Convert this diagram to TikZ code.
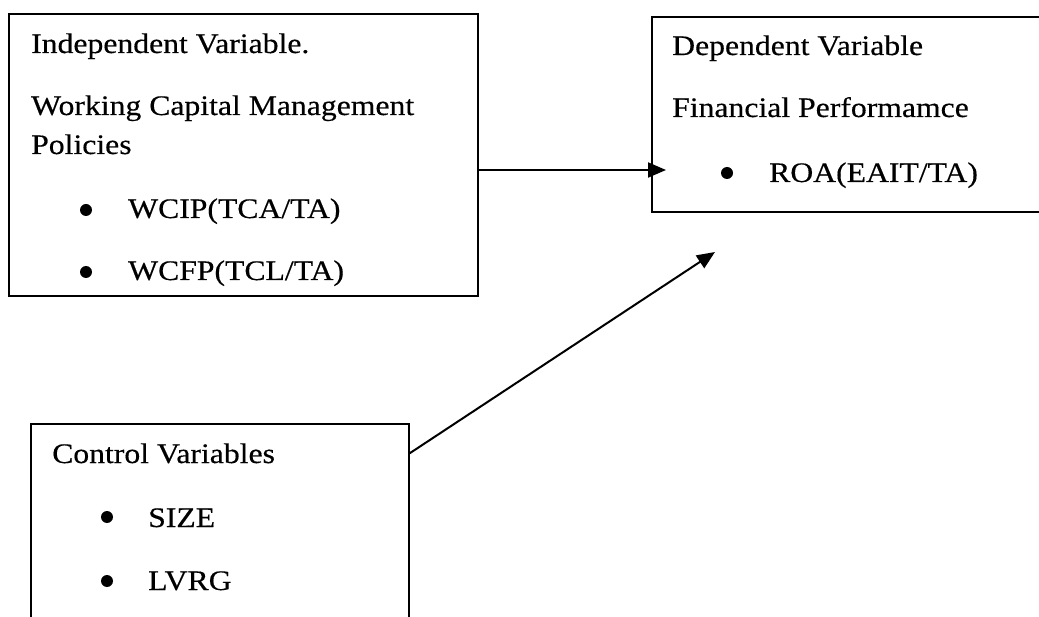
\documentclass[tikz,border=0pt]{standalone}
\usepackage{fontspec}
\setmainfont[FakeStretch=1.12, FakeBold=0.4]{Liberation Serif}
\usepackage{tikz}
\usetikzlibrary{arrows.meta}

\begin{document}
\begin{tikzpicture}[
    x=1pt, y=-1pt,
    box line/.style={draw, line width=1.5pt, inner sep=0pt},
    pile/.style={line width=2pt, -{Triangle[length=18pt, width=15pt]}},
    label text/.style={anchor=base west, inner sep=0pt,
        font=\fontsize{28.3}{34}\selectfont},
    dot/.style={circle, fill, inner sep=0pt, minimum size=12pt},
    every node/.style={color=black}
    ]
    \useasboundingbox (0,0) rectangle (1039,617);
    % Boxes
    \node[box line, minimum width=469pt, minimum height=282pt] (indep) at (243.5,155) {};
    \node[box line, minimum width=408pt, minimum height=195pt] (dep) at (856,114.5) {};
    \node[box line, minimum width=378pt, minimum height=226pt] (ctrl) at (220,537) {};
    % Independent box text
    \node[label text] (indtitle) at (31,53) {Independent Variable.};
    \node[label text] (wcm) at (31,115) {Working Capital Management};
    \node[label text] (pol) at (31,154) {Policies};
    \node[dot] (dotA) at (86,210) {};
    \node[label text] (wcip) at (128,218) {WCIP(TCA/TA)};
    \node[dot] (dotB) at (86,272) {};
    \node[label text] (wcfp) at (128,280) {WCFP(TCL/TA)};
    % Dependent box text
    \node[label text] (deptitle) at (672,55) {Dependent Variable};
    \node[label text] (finperf) at (672,117) {Financial Performamce};
    \node[dot] (dotC) at (727,173) {};
    \node[label text] (roa) at (769,182) {ROA(EAIT/TA)};
    % Control box text
    \node[label text] (ctrltitle) at (52,463) {Control Variables};
    \node[dot] (dotD) at (107,517) {};
    \node[label text] (size) at (148,527) {SIZE};
    \node[dot] (dotE) at (107,581) {};
    \node[label text] (lvrg) at (148,590) {LVRG};
    % Arrows
    \coordinate (roatip) at (666,170);
    \coordinate (ctrltip) at (715,252);
    \draw[pile] (indep.east |- roatip) -- (roatip);
    \draw[pile] ([yshift=-30pt]ctrl.north east) -- (ctrltip);
\end{tikzpicture}
\end{document}
